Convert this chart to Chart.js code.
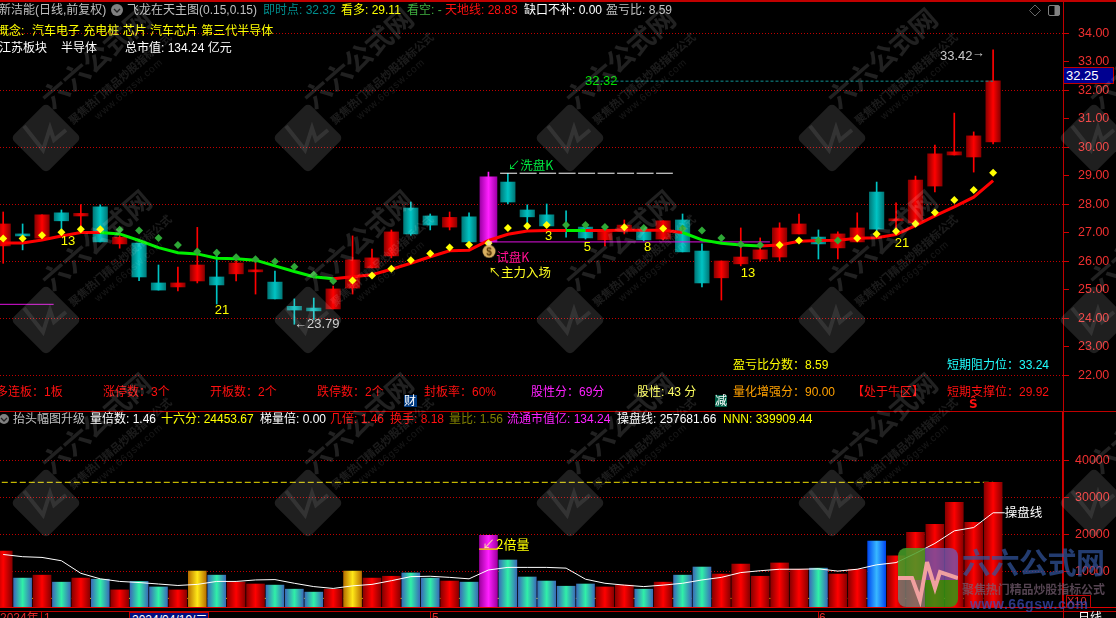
<!DOCTYPE html>
<html>
<head>
<meta charset="utf-8">
<script src="https://cdn.jsdelivr.net/npm/chart.js@4/dist/chart.umd.js"></script>
<style>
html, body { margin: 0; background: #000; overflow: hidden; }
#wrap { position: relative; width: 1116px; height: 618px; overflow: hidden; background: #000;
  font: 12px "Liberation Sans", "Noto Sans CJK SC", sans-serif; }
canvas { position: absolute; left: 0; }
.t { position: absolute; white-space: nowrap; line-height: 16px; height: 16px; }
.rule { position: absolute; }
svg { position: absolute; left: 0; top: 0; pointer-events: none; }
</style>
</head>
<body>
<div id="wrap">
  <canvas id="priceChart" width="1116" height="411" style="top:0"></canvas>
  <canvas id="volChart" width="1116" height="196" style="top:412px"></canvas>
  <svg id="marks" width="1116" height="618"></svg>
</div>
<script>
// K lines
const opens = [26.54,26.91,26.81,27.70,27.59,27.91,26.61,26.64,25.24,25.10,25.31,25.45,25.56,25.63,25.27,24.42,24.36,24.33,25.06,25.77,26.19,27.87,27.59,27.20,27.56,26.68,28.78,27.80,27.63,27.12,27.20,26.75,27.12,27.10,26.78,27.45,26.36,25.42,25.91,26.08,26.15,26.96,26.85,26.47,26.68,28.43,27.42,27.35,28.64,29.73,29.66,30.19];
const closes = [27.31,26.89,27.63,27.42,27.68,26.68,26.84,25.45,24.99,25.24,25.87,25.17,25.94,25.66,24.68,24.29,24.26,25.03,26.05,26.12,27.03,26.96,27.27,27.54,26.68,28.96,28.08,27.56,27.24,27.05,26.82,27.10,27.27,26.75,27.42,26.33,25.24,26.01,26.15,26.40,27.17,27.31,26.61,26.96,27.17,27.13,27.49,28.85,29.77,29.84,30.40,32.33];
const highs = [27.73,27.31,27.63,27.80,27.99,27.98,26.98,26.64,25.87,25.80,27.19,26.40,26.16,26.14,25.66,24.68,24.71,25.13,26.89,26.43,27.10,28.08,27.66,27.73,27.70,29.13,29.09,27.98,28.01,27.77,27.33,27.22,27.45,27.24,27.42,27.66,26.61,26.01,27.17,26.82,27.35,27.66,27.10,27.03,27.70,28.78,28.05,28.99,30.08,31.20,30.54,33.42];
const lows = [25.93,26.40,26.75,26.98,27.10,26.68,26.46,25.32,24.99,24.96,25.24,24.50,25.31,24.85,24.68,23.79,23.96,24.33,24.85,25.77,26.12,26.91,27.10,27.10,26.68,26.68,28.01,27.22,27.22,26.85,26.78,26.54,26.96,26.71,26.75,26.33,25.10,24.64,25.84,26.01,26.01,26.96,26.08,26.08,26.68,27.03,26.92,27.27,28.43,29.73,29.13,30.12];

// 天地线 and its colour switch (1 = green stretch)
const trendLine = [26.64,26.64,26.75,26.89,27.01,27.01,26.96,26.73,26.48,26.30,26.26,26.11,26.09,26.04,25.84,25.64,25.46,25.39,25.46,25.53,25.72,25.93,26.16,26.37,26.39,26.73,26.95,27.06,27.08,27.08,27.08,27.08,27.09,27.09,27.09,27.01,26.75,26.63,26.57,26.54,26.57,26.70,26.73,26.74,26.81,26.83,26.94,27.25,27.59,27.91,28.25,28.83];
const trendGreen = [0,0,0,0,0,1,1,1,1,1,1,1,1,1,1,1,1,0,0,0,0,0,0,0,0,0,0,0,0,1,0,0,0,0,0,1,1,1,1,0,0,0,0,0,0,0,0,0,0,0,0,0];

// 看多 diamonds (1 = yellow, 0 = green)
const dotValues = [26.80,26.80,26.91,27.02,27.12,27.12,27.11,27.08,26.82,26.57,26.34,26.30,26.14,26.07,25.99,25.81,25.53,25.31,25.33,25.50,25.74,26.04,26.27,26.48,26.58,26.63,27.17,27.24,27.27,27.27,27.27,27.20,27.19,27.17,27.15,27.15,27.08,26.82,26.60,26.57,26.57,26.73,26.73,26.73,26.81,26.96,27.05,27.32,27.71,28.15,28.50,29.11];
const dotYellow = [1,1,1,1,1,1,0,0,0,0,0,0,0,0,0,0,0,0,1,1,1,1,1,1,1,1,1,1,1,0,0,0,1,0,1,0,0,0,0,0,1,1,0,0,1,1,1,1,1,1,1,1];

// volume panel
const volumes = [15400,8100,8900,7000,8100,7800,4900,7200,5700,4900,10000,8900,7000,6500,6200,5100,4300,5100,10000,8100,8600,9500,8100,7300,7000,19700,13000,8400,7300,5900,6500,5700,6200,5100,7000,8900,11100,9200,11900,8600,12200,10500,10800,9200,10500,18100,14100,20500,22700,28600,23200,34050];
const volumeKinds = ['r','t','r','t','r','t','r','t','t','r','g','t','r','r','t','t','t','r','g','r','r','t','t','r','t','m','t','t','t','t','t','r','r','t','r','t','t','r','r','r','r','r','t','r','r','b','r','r','r','r','r','r'];
const controlLine = [14500,13900,13700,12800,9400,7900,7200,6900,6500,6100,6400,7200,7200,7600,7700,6700,5800,5300,6000,6400,7400,8500,8600,8300,7900,10300,11000,11000,11000,10800,7800,6700,6200,5800,6200,6700,7600,8300,9600,10100,10500,10500,10600,10000,10500,11700,12300,14800,17500,20900,21800,25800,25800];

const priceTicks = [22,23,24,25,26,27,28,29,30,31,32,33,34];
const volumeTicks = [10000,20000,30000,40000];

const barStep = 19.41;
const firstBarX = 3.2;
const plotRight = 1063;
const xRange = { type: 'linear', display: false, offset: false, min: -firstBarX / barStep, max: (plotRight - firstBarX) / barStep };

const RED = '#ff0000', TEAL = '#00c4c4', MAGENTA = '#ff20ff';
const GRID = '#c00000';

function shade(ctx, half, edge, mid) {
    const x = ctx.chart.scales.x ? ctx.chart.scales.x.getPixelForValue(ctx.raw.x) : NaN;
    if (!isFinite(x)) return mid;
    const g = ctx.chart.ctx.createLinearGradient(x - half, 0, x + half, 0);
    g.addColorStop(0, edge);
    g.addColorStop(0.5, mid);
    g.addColorStop(1, edge);
    return g;
}

function candleKind(i) {
    if (i === 25) return 'm';
    return closes[i] >= opens[i] ? 'r' : 't';
}

// little money bag used for the 试盘K mark
function bagSprite() {
    const c = document.createElement('canvas');
    c.width = 16; c.height = 18;
    const k = c.getContext('2d');
    k.fillStyle = '#d8b060';
    k.beginPath(); k.arc(8, 11, 6.5, 0, Math.PI * 2); k.fill();
    k.fillStyle = '#f0e0a0';
    k.beginPath(); k.moveTo(5, 1); k.lineTo(11, 1); k.lineTo(9.5, 5); k.lineTo(6.5, 5); k.fill();
    k.fillStyle = '#503000';
    k.font = 'bold 10px "Liberation Sans"';
    k.textAlign = 'center';
    k.fillText('$', 8, 15);
    return c;
}

// data anchored text: [bar index, value, text, colour, font, align]
function noteLayer(notes) {
    return {
        id: 'notes',
        afterDatasetsDraw(chart) {
            const c = chart.ctx;
            c.save();
            c.textBaseline = 'middle';
            notes.forEach(n => {
                c.fillStyle = n[3];
                c.font = n[4] || '13px "Liberation Sans", "Noto Sans CJK SC"';
                c.textAlign = n[5] || 'center';
                c.fillText(n[2], chart.scales.x.getPixelForValue(n[0]), chart.scales.y.getPixelForValue(n[1]));
            });
            c.restore();
        }
    };
}

const cjk = '12.5px "Noto Sans CJK SC"';
const priceNotes = [
    [3.34, 26.68, '13', '#ffff00'],
    [11.27, 24.26, '21', '#ffff00'],
    [14.98, 23.77, '←23.79', '#c8c8c8', null, 'left'],
    [28.1, 26.89, '3', '#ffff00'],
    [30.1, 26.5, '5', '#ffff00'],
    [33.2, 26.47, '8', '#ffff00'],
    [38.37, 25.59, '13', '#ffff00'],
    [46.3, 26.64, '21', '#ffff00'],
    [48.26, 33.2, '33.42', '#c8c8c8', null, 'left'],
    [49.9, 33.3, '→', '#c8c8c8', null, 'left'],
    [29.97, 32.32, '32.32', '#00e000', null, 'left'],
    [26.0, 29.38, '↙洗盘K', '#00e840', cjk, 'left'],
    [25.4, 26.15, '试盘K', '#ff1090', cjk, 'left'],
    [25.0, 25.63, '↖主力入场', '#ffff20', cjk, 'left']
];
const volNotes = [
    [25.0, 17300, '↙', '#ffe0a0', cjk],
    [25.4, 17300, '2倍量', '#ffff00', '13px "Noto Sans CJK SC"', 'left'],
    [51.6, 26050, '操盘线', '#ffffff', cjk, 'left']
];

const idx = opens.map((_, i) => i);
const levelLine = (x0, x1, v) => [{ x: x0, y: v }, { x: x1, y: v }];
const sideAxis = (tickList, padding) => ({
    position: 'right',
    afterBuildTicks: s => { s.ticks = tickList.map(value => ({ value })); },
    afterFit: s => { s.width = 1116 - plotRight; s.paddingTop = 0; s.paddingBottom = 0; },
    border: { color: '#d00000', dash: [1, 2] },
    grid: { color: GRID, tickColor: '#d00000', tickLength: 6, tickBorderDash: [] },
    ticks: { autoSkip: false, padding, color: '#f03030', font: { family: 'Liberation Sans', size: 12.5 } }
});

const priceAxis = sideAxis(priceTicks, 9);
priceAxis.min = 20.747;
priceAxis.max = 35.168;
priceAxis.ticks.callback = v => Number(v).toFixed(2);
priceAxis.grid.color = t => t.tick.value % 2 === 0 ? GRID : 'transparent';

const bodyIdx = idx.filter(i => candleKind(i) !== 'm');

new Chart(document.getElementById('priceChart'), {
    type: 'bar',
    data: {
        datasets: [
            { type: 'line', order: 1, data: dotValues.map((y, i) => ({ x: i, y })), showLine: false, pointStyle: 'rectRot', pointRadius: 4,
              pointBackgroundColor: dotYellow.map(f => f ? '#ffff00' : '#2ea836'), pointBorderWidth: 0 },
            { type: 'line', order: 0, data: [{ x: 25.03, y: 26.42 }], showLine: false, pointStyle: bagSprite() },
            { type: 'line', order: 2, data: trendLine.map((y, i) => ({ x: i, y })), borderWidth: 3, borderColor: RED, pointRadius: 0, tension: 0,
              segment: { borderColor: c => trendGreen[c.p0DataIndex] ? '#00f000' : RED } },
            { type: 'line', order: 3, data: levelLine(24.75, 39.5, 26.68), borderColor: '#e010e0', borderWidth: 1, pointRadius: 0 },
            { type: 'line', order: 3, data: levelLine(-1, 2.6, 24.49), borderColor: '#e010e0', borderWidth: 1, pointRadius: 0 },
            { type: 'line', order: 3, data: levelLine(25.6, 34.5, 29.09), borderColor: '#ffffff', borderWidth: 1, borderDash: [17, 2.5], pointRadius: 0 },
            { type: 'line', order: 3, data: levelLine(30.0, 51, 32.32), borderColor: '#109090', borderWidth: 1, borderDash: [3, 2], pointRadius: 0 },
            { order: 4, grouped: false, barThickness: 14.5, minBarLength: 2, borderWidth: 0,
              data: bodyIdx.map(i => ({ x: i, y: [opens[i], closes[i]] })),
              backgroundColor: c => {
                  if (!c.raw) return RED;
                  return candleKind(c.raw.x) === 'r' ? shade(c, 7.3, '#8a0000', RED) : shade(c, 7.3, '#007878', TEAL);
              } },
            { order: 4, grouped: false, barThickness: 17, borderWidth: 0,
              data: [{ x: 25, y: [opens[25], closes[25]] }],
              backgroundColor: c => c.raw ? shade(c, 8.5, '#a000a8', MAGENTA) : MAGENTA },
            { order: 5, grouped: false, barThickness: 1, borderWidth: 0,
              data: idx.map(i => ({ x: i, y: [lows[i], highs[i]] })),
              backgroundColor: idx.map(i => ({ r: RED, t: TEAL, m: MAGENTA })[candleKind(i)]) }
        ]
    },
    options: {
        responsive: false,
        animation: false,
        events: [],
        layout: { padding: 0, autoPadding: false },
        plugins: { legend: { display: false }, tooltip: { enabled: false } },
        scales: { x: xRange, y: priceAxis }
    },
    plugins: [noteLayer(priceNotes)]
});

const volFill = {
    r: c => shade(c, 9, '#8a0000', '#ff0000'),
    t: c => shade(c, 9, '#3a6cb8', '#30f0a8'),
    g: c => shade(c, 9, '#b87000', '#ffe818'),
    b: c => shade(c, 9, '#0048f0', '#38b8ff'),
    m: c => shade(c, 9, '#a000a0', '#ff20ff')
};

const volAxis = sideAxis(volumeTicks, 6);
volAxis.min = 0;
volAxis.max = 53100;
volAxis.border.width = 2;
volAxis.ticks.callback = v => String(v);

new Chart(document.getElementById('volChart'), {
    type: 'bar',
    data: {
        datasets: [
            { type: 'line', order: 1, data: controlLine.map((y, i) => ({ x: i === 52 ? 51.6 : i, y })), borderColor: '#ffffff', borderWidth: 1, pointRadius: 0, tension: 0 },
            { order: 2, grouped: false, barThickness: 18, borderWidth: 0, data: [{ x: 25, y: [15850, 16050] }], backgroundColor: '#f0d000' },
            { order: 3, grouped: false, barThickness: 18, borderWidth: 0,
              data: volumes.map((v, i) => ({ x: i, y: v })),
              backgroundColor: c => c.raw ? volFill[volumeKinds[c.raw.x]](c) : RED },
            { type: 'line', order: 4, data: levelLine(-1, 51, 34050), borderColor: '#f0e000', borderWidth: 1, borderDash: [6, 3], pointRadius: 0 },
            { type: 'line', order: 4, data: levelLine(-1, 51, 2600), borderColor: '#f0e000', borderWidth: 1, borderDash: [4, 4], pointRadius: 0 }
        ]
    },
    options: {
        responsive: false,
        animation: false,
        events: [],
        layout: { padding: 0, autoPadding: false },
        plugins: { legend: { display: false }, tooltip: { enabled: false } },
        scales: { x: xRange, y: volAxis }
    },
    plugins: [noteLayer(volNotes)]
});

// watermark tiles and bottom right logo, on top of the charts
const NS = 'http://www.w3.org/2000/svg';
const svg = document.getElementById('marks');
function el(parent, tag, attrs, text) {
    const e = document.createElementNS(NS, tag);
    for (const k in attrs) e.setAttribute(k, attrs[k]);
    if (text) e.textContent = text;
    parent.appendChild(e);
    return e;
}
const wmFont = '"Noto Sans CJK SC"';
[-45, 138, 320, 503].forEach(cy => {
    [46, 308, 570, 832, 1094].forEach(cx => {
        const g = el(svg, 'g', { transform: 'translate(' + cx + ',' + cy + ')' });
        el(g, 'rect', { x: -25, y: -25, width: 50, height: 50, rx: 5, fill: 'rgba(255,255,255,0.12)', transform: 'rotate(45)' });
        el(g, 'polyline', { points: '-22,-12 -3,12 4,-10 8,2 20,-8', fill: 'none', stroke: 'rgba(255,255,255,0.09)', 'stroke-width': 4 });
        el(g, 'text', { x: 6, y: -28, fill: 'rgba(255,255,255,0.13)', 'font-size': 27, 'font-weight': 700, 'font-family': wmFont, transform: 'rotate(-41 6 -28)' }, '六六公式网');
        el(g, 'text', { x: 27, y: -13, fill: 'rgba(255,255,255,0.11)', 'font-size': 11, 'font-weight': 700, 'font-family': wmFont, transform: 'rotate(-41 27 -13)' }, '聚焦热门精品炒股指标公式');
        el(g, 'text', { x: 52, y: -18, fill: 'rgba(255,255,255,0.09)', 'font-size': 10, 'letter-spacing': 1, 'font-family': 'Liberation Sans', transform: 'rotate(-41 52 -18)' }, 'www.66gsw.com');
    });
});

const defs = el(svg, 'defs', {});
const clip = el(defs, 'clipPath', { id: 'logoClip' });
el(clip, 'rect', { x: 898, y: 548, width: 60, height: 59, rx: 8 });
const logo = el(svg, 'g', { 'clip-path': 'url(#logoClip)' });
el(logo, 'rect', { x: 898, y: 548, width: 27, height: 32, fill: 'rgb(70,160,40)', 'fill-opacity': 0.85 });
el(logo, 'rect', { x: 925, y: 548, width: 33, height: 32, fill: 'rgb(115,85,175)', 'fill-opacity': 0.8 });
el(logo, 'rect', { x: 898, y: 580, width: 27, height: 27, fill: 'rgb(120,120,110)', 'fill-opacity': 0.85 });
el(logo, 'rect', { x: 925, y: 580, width: 33, height: 27, fill: 'rgb(50,150,20)', 'fill-opacity': 0.85 });
el(logo, 'polyline', { points: '898,578 912,578 920,600 927,562 935,588 940,572 958,578', fill: 'none', stroke: '#f0a0a0', 'stroke-width': 4 });
el(svg, 'text', { x: 962, y: 574, fill: 'rgba(50,85,160,0.7)', 'font-size': 29, 'font-weight': 700, 'font-family': wmFont, textLength: 143 }, '六六公式网');
el(svg, 'text', { x: 962, y: 594, fill: 'rgba(120,95,115,0.7)', 'font-size': 12, 'font-weight': 700, 'font-family': wmFont, textLength: 143 }, '聚焦热门精品炒股指标公式');
el(svg, 'text', { x: 970, y: 609, fill: 'rgba(60,80,190,0.7)', 'font-size': 14, 'font-weight': 700, 'font-family': 'Liberation Sans', textLength: 118 }, 'www.66gsw.com');

// frame lines and the software's own text rows
const wrap = document.getElementById('wrap');
function rule(x, y, w, h, color) {
    const d = document.createElement('div');
    d.className = 'rule';
    d.style.cssText = 'left:' + x + 'px;top:' + y + 'px;width:' + w + 'px;height:' + h + 'px;background:' + color;
    wrap.appendChild(d);
    return d;
}
function text(x, cy, str, color, extra) {
    const d = document.createElement('div');
    d.className = 't';
    d.textContent = str;
    d.style.cssText = 'left:' + x + 'px;top:' + (cy - 8) + 'px;color:' + color + ';' + (extra || '');
    wrap.appendChild(d);
    return d;
}
rule(0, 0, 1116, 2, '#c00000');
rule(0, 411, 1116, 1, '#c00000');
rule(0, 607, 1116, 1, '#e00000');
rule(0, 611, 1116, 1, '#c00000');
rule(1063, 0, 1, 618, '#c00000');

const GREY = '#c0c0c0', YEL = '#ffff00', REDTXT = '#ff1010', WHITE = '#ffffff';
const rows = [
    [-1, 10, '新洁能(日线,前复权)', GREY], [127, 10, '飞龙在天主图(0.15,0.15)', GREY], [263, 10, '即时点: 32.32', '#008c8c'],
    [341, 10, '看多: 29.11', YEL], [407, 10, '看空: -', '#40b040'], [445, 10, '天地线: 28.83', REDTXT],
    [524, 10, '缺口不补: 0.00', WHITE], [606, 10, '盈亏比: 8.59', GREY],
    [-3, 31, '概念:', YEL], [32, 31, '汽车电子 充电桩 芯片 汽车芯片 第三代半导体', YEL],
    [-1, 48, '江苏板块', WHITE], [61, 48, '半导体', WHITE], [125, 48, '总市值: 134.24 亿元', WHITE],
    [733, 365, '盈亏比分数：8.59', YEL], [947, 365, '短期阻力位：33.24', '#20ffff'],
    [-4, 392, '多连板：1板', REDTXT], [103, 392, '涨停数：3个', REDTXT], [210, 392, '开板数：2个', REDTXT],
    [317, 392, '跌停数：2个', REDTXT], [424, 392, '封板率：60%', REDTXT], [531, 392, '股性分：69分', '#ff20ff'],
    [637, 392, '股性: 43 分', '#ffff60'], [733, 392, '量化增强分：90.00', '#ffa000'], [852, 392, '【处于牛区】', REDTXT],
    [947, 392, '短期支撑位：29.92', REDTXT],
    [13, 419, '抬头幅图升级', GREY], [90, 419, '量倍数: 1.46', WHITE], [161, 419, '十六分: 24453.67', YEL], [260, 419, '梯量倍: 0.00', WHITE],
    [330, 419, '几倍: 1.46', REDTXT], [390, 419, '换手: 8.18', REDTXT], [449, 419, '量比: 1.56', '#808000'],
    [507, 419, '流通市值亿: 134.24', '#ff20ff'], [617, 419, '操盘线: 257681.66', WHITE], [723, 419, 'NNN: 339909.44', YEL],
    [0, 618, '2024年', '#e03030'], [44, 618, '1', '#e03030'], [432, 618, '5', '#e03030'], [819, 618, '6', '#e03030'], [1078, 618, '日线', WHITE]
];
rows.forEach(r => text(r[0], r[1], r[2], r[3]));

// small badges
text(404, 403, '财', WHITE, 'background:#003a80;width:13px;height:12px;line-height:12px;font-size:12px;');
text(715, 403, '减', WHITE, 'background:#006048;width:12px;height:12px;line-height:12px;font-size:12px;');
text(969, 405, 'Ŝ', REDTXT, 'font:bold 12px "DejaVu Sans";');
text(1063, 75, '32.25', WHITE, 'background:#000090;width:47px;height:15px;line-height:15px;padding-left:2px;border:1px solid #c00000;font-size:13px;');
text(1066, 603, 'X10', '#e03030', 'border:1px solid #c00000;width:23px;height:11px;line-height:11px;font-size:11px;');
text(129, 618, '2024/04/19/二', WHITE, 'background:#001080;border:1px solid #c00000;width:76px;padding-left:2px;line-height:15px;height:15px;font-size:12px;top:612px;');
rule(41, 611, 1, 7, '#c00000');
rule(430, 611, 1, 7, '#c00000');
rule(818, 611, 1, 7, '#c00000');

// round chevron buttons and the corner icons
[[117, 10, 6], [4, 419, 5]].forEach(b => {
    el(svg, 'circle', { cx: b[0], cy: b[1], r: b[2], fill: '#808080' });
    el(svg, 'polyline', { points: (b[0] - 3) + ',' + (b[1] - 1) + ' ' + b[0] + ',' + (b[1] + 2) + ' ' + (b[0] + 3) + ',' + (b[1] - 1), fill: 'none', stroke: '#222', 'stroke-width': 1.3 });
});
el(svg, 'polygon', { points: '1035,5 1040.5,10.5 1035,16 1029.5,10.5', fill: 'none', stroke: '#666' });
el(svg, 'rect', { x: 1048.5, y: 5.5, width: 11, height: 10, rx: 1.5, fill: 'none', stroke: '#808080' });
el(svg, 'rect', { x: 1054.5, y: 6, width: 5, height: 9, fill: '#808080' });
wrap.appendChild(svg);
</script>
</body>
</html>
